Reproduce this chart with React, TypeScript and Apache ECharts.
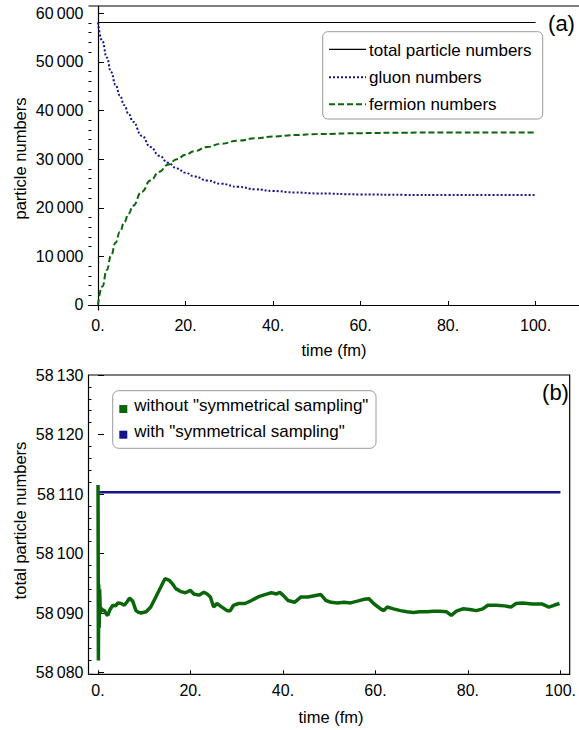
import React, { useEffect, useRef } from "react";
import * as echarts from "echarts";

// ---------- Data ----------
// Panel (a)
const TOP_T = [0, 1, 2, 3, 4, 5, 6, 7, 8, 10, 12, 14, 16, 18, 20, 22, 25, 28, 32, 36, 40, 45, 50, 60, 70, 80, 90, 100];
const FERMION_N = [0, 3800, 7200, 10200, 12800, 15000, 17000, 18800, 20400, 23300, 25600, 27400, 28850, 30000, 30900, 31650, 32500, 33150, 33800, 34300, 34650, 34950, 35150, 35350, 35450, 35500, 35500, 35500];
const GLUON_N = [58110, 54300, 50900, 47900, 45300, 43100, 41100, 39300, 37700, 34800, 32500, 30700, 29250, 28100, 27200, 26450, 25600, 24950, 24300, 23800, 23450, 23150, 22950, 22750, 22650, 22600, 22600, 22600];
const TOTAL_T = [0, 100];
const TOTAL_N = [58110, 58110];

// Panel (b)
const WITHOUT_T = [0, 0.08, 0.16, 0.25, 0.35, 0.5, 0.7, 1.0, 1.4, 1.8, 2.1, 2.6, 3.2, 3.8, 4.3, 5.0, 5.7, 6.3, 6.8, 7.5, 8.2, 8.8, 9.3, 10.4, 11.4, 12.5, 13.6, 14.5, 15.4, 16.1, 16.8, 17.9, 18.9, 20.0, 20.7, 21.8, 22.9, 23.6, 24.3, 25.0, 25.7, 26.8, 27.9, 28.6, 29.3, 30.4, 31.8, 33.2, 34.6, 36.1, 37.5, 38.6, 39.3, 40.0, 41.1, 42.5, 43.9, 45.4, 46.8, 48.2, 49.3, 50.4, 51.8, 53.2, 54.6, 56.1, 57.5, 58.6, 59.6, 61.1, 61.8, 62.5, 63.9, 65.4, 66.8, 68.2, 69.6, 71.1, 72.5, 73.9, 75.4, 76.4, 77.5, 78.9, 80.4, 81.8, 83.2, 84.3, 86.1, 87.9, 89.3, 90.4, 91.8, 93.9, 96.1, 97.5, 98.6, 99.8];
const WITHOUT_N = [58111.5, 58082.0, 58094.8, 58087.5, 58094.0, 58090.0, 58090.8, 58090.5, 58090.4, 58089.8, 58089.6, 58090.6, 58091.3, 58091.2, 58091.7, 58091.6, 58091.3, 58091.9, 58092.5, 58092.0, 58090.4, 58090.1, 58090.0, 58090.2, 58091.0, 58092.7, 58094.4, 58095.8, 58095.5, 58094.9, 58094.1, 58093.6, 58093.4, 58093.8, 58093.2, 58093.0, 58093.5, 58093.2, 58092.7, 58091.0, 58091.6, 58091.0, 58090.4, 58090.4, 58091.3, 58091.6, 58091.6, 58092.1, 58092.7, 58093.1, 58093.4, 58093.2, 58093.5, 58093.0, 58092.1, 58091.8, 58092.7, 58092.7, 58092.9, 58093.1, 58092.1, 58091.8, 58091.7, 58091.8, 58091.7, 58092.0, 58092.3, 58092.4, 58091.6, 58090.7, 58090.4, 58091.0, 58090.7, 58090.4, 58090.2, 58090.1, 58090.2, 58090.2, 58090.3, 58090.3, 58090.2, 58089.6, 58090.3, 58090.7, 58090.6, 58090.4, 58090.7, 58091.3, 58091.3, 58091.2, 58091.0, 58091.6, 58091.7, 58091.5, 58091.5, 58091.0, 58091.3, 58091.6];
const WITH_T = [0, 100];
const WITH_N = [58110.3, 58110.3];

// Ticks
const X_TICKS = [0, 20, 40, 60, 80, 100];
const TOP_Y_MAJOR = [0, 10000, 20000, 30000, 40000, 50000, 60000];
const TOP_Y_MINOR = [2000, 4000, 6000, 8000, 12000, 14000, 16000, 18000, 22000, 24000, 26000, 28000, 32000, 34000, 36000, 38000, 42000, 44000, 46000, 48000, 52000, 54000, 56000, 58000];
const BOT_Y_MAJOR = [58080, 58090, 58100, 58110, 58120, 58130];
const BOT_Y_MINOR = [58082, 58084, 58086, 58088, 58092, 58094, 58096, 58098, 58102, 58104, 58106, 58108, 58112, 58114, 58116, 58118, 58122, 58124, 58126, 58128];

const FONT = "'Liberation Sans', Arial, Helvetica, sans-serif";
const GREEN = "#0b660b";
const BLUE = "#14148c";

const zip = (a: number[], b: number[]) => a.map((v, i) => [v, b[i]]);
const fmtThousands = (v: number) => {
  const s = String(Math.round(v));
  if (s.length <= 3) return s;
  return s.slice(0, s.length - 3) + "\u2009" + s.slice(s.length - 3);
};

export default function App() {
  const ref = useRef<HTMLDivElement>(null);
  useEffect(() => {
    if (!ref.current) return;
    const chart = echarts.init(ref.current, undefined, { renderer: "svg" });

    const AXIS_LINE = { show: true, lineStyle: { color: "#000", width: 1.2 } };

    const xAxisBase = (gridIndex: number, min: number, max: number, margin: number, line: boolean) => ({
      type: "value" as const,
      gridIndex,
      position: "bottom",
      min,
      max,
      splitLine: { show: false },
      axisLine: line ? AXIS_LINE : { show: false },
      axisTick: {
        show: true,
        inside: true,
        length: 4,
        customValues: X_TICKS,
        lineStyle: { color: "#000", width: 1 },
      },
      axisLabel: {
        customValues: X_TICKS,
        formatter: (v: number) => `${v}.`,
        margin,
        fontSize: 16,
        color: "#000",
        fontFamily: FONT,
      },
    });

    const yMajor = (gridIndex: number, min: number, max: number, ticks: number[], line: boolean) => ({
      type: "value" as const,
      gridIndex,
      position: "left",
      min,
      max,
      splitLine: { show: false },
      axisLine: line ? AXIS_LINE : { show: false },
      axisTick: {
        show: true,
        inside: true,
        length: 6,
        customValues: ticks,
        lineStyle: { color: "#000", width: 1 },
      },
      axisLabel: {
        customValues: ticks,
        formatter: (v: number) => fmtThousands(v),
        margin: 5,
        fontSize: 16,
        color: "#000",
        fontFamily: FONT,
      },
    });

    const yMinor = (gridIndex: number, min: number, max: number, ticks: number[]) => ({
      type: "value" as const,
      gridIndex,
      position: "left",
      offset: 0,
      min,
      max,
      splitLine: { show: false },
      axisLine: { show: false },
      axisLabel: { show: false },
      axisTick: {
        show: true,
        inside: true,
        length: 3,
        customValues: ticks,
        lineStyle: { color: "#000", width: 1 },
      },
    });

    const txt = (text: string, x: number, y: number, size: number, extra: any = {}) => ({
      type: "text",
      x,
      y,
      ...extra,
      style: {
        text,
        fontSize: size,
        fontFamily: FONT,
        fill: "#000",
        align: extra.align || "left",
        verticalAlign: "middle",
      },
    });

    const option: any = {
      animation: false,
      backgroundColor: "#fff",
      grid: [
        { left: 88.5, top: 6, width: 491.5, height: 304, show: false },
        { left: 88.5, top: 375, width: 485.8, height: 299.3, show: true, borderColor: "#000", borderWidth: 1.2, backgroundColor: "transparent" },
      ],
      xAxis: [xAxisBase(0, -2.17, 109.92, 7, true), xAxisBase(1, -2.06, 102.0, 8, false)],
      yAxis: [
        yMajor(0, -1030, 61500, TOP_Y_MAJOR, true),
        yMinor(0, -1030, 61500, TOP_Y_MINOR),
        yMajor(1, 58079.7, 58130, BOT_Y_MAJOR, false),
        yMinor(1, 58079.7, 58130, BOT_Y_MINOR),
      ],
      series: [
        {
          name: "total particle numbers",
          type: "line",
          xAxisIndex: 0,
          yAxisIndex: 0,
          data: zip(TOTAL_T, TOTAL_N),
          showSymbol: false,
          lineStyle: { color: "#000", width: 1.2 },
        },
        {
          name: "gluon numbers",
          type: "line",
          xAxisIndex: 0,
          yAxisIndex: 0,
          data: zip(TOP_T, GLUON_N),
          showSymbol: false,
          smooth: true,
          smoothMonotone: "x",
          lineStyle: { color: BLUE, width: 2, type: [2, 2] },
        },
        {
          name: "fermion numbers",
          type: "line",
          xAxisIndex: 0,
          yAxisIndex: 0,
          data: zip(TOP_T, FERMION_N),
          showSymbol: false,
          smooth: true,
          smoothMonotone: "x",
          lineStyle: { color: GREEN, width: 2, type: [6, 3] },
        },
        {
          name: 'with "symmetrical sampling"',
          type: "line",
          xAxisIndex: 1,
          yAxisIndex: 2,
          data: zip(WITH_T, WITH_N),
          showSymbol: false,
          lineStyle: { color: BLUE, width: 2.5 },
        },
        {
          name: 'without "symmetrical sampling"',
          type: "line",
          xAxisIndex: 1,
          yAxisIndex: 2,
          data: zip(WITHOUT_T, WITHOUT_N),
          showSymbol: false,
          lineStyle: { color: GREEN, width: 3.5 },
        },
      ],
      graphic: [
        // top frame line of panel (a)
        { type: "line", shape: { x1: 88.5, y1: 6, x2: 579, y2: 6 }, style: { stroke: "#000", lineWidth: 1.2 } },
        // axis names
        txt("particle numbers", 20, 158.5, 16.5, { rotation: Math.PI / 2, align: "center" }),
        txt("time (fm)", 334, 350, 16.5, { align: "center" }),
        txt("total particle numbers", 20, 520.5, 16.5, { rotation: Math.PI / 2, align: "center" }),
        txt("time (fm)", 331, 717, 16.5, { align: "center" }),
        // panel tags
        txt("(a)", 561.5, 23, 22, { align: "center" }),
        txt("(b)", 555.5, 392, 22, { align: "center" }),
        // legend (a)
        {
          type: "rect",
          shape: { x: 322.7, y: 31.7, width: 220, height: 87.3, r: 5 },
          style: { fill: "#fff", stroke: "#9a9a9a", lineWidth: 1 },
          z: 10,
        },
        { type: "line", shape: { x1: 329, y1: 49.3, x2: 366, y2: 49.3 }, style: { stroke: "#000", lineWidth: 1.2 }, z: 11 },
        { type: "line", shape: { x1: 329, y1: 77.3, x2: 366, y2: 77.3 }, style: { stroke: BLUE, lineWidth: 2, lineDash: [2, 2] }, z: 11 },
        { type: "line", shape: { x1: 329, y1: 104.3, x2: 366, y2: 104.3 }, style: { stroke: GREEN, lineWidth: 2, lineDash: [6, 3] }, z: 11 },
        { ...txt("total particle numbers", 369, 50, 17), z: 11 },
        { ...txt("gluon numbers", 369, 77, 17), z: 11 },
        { ...txt("fermion numbers", 369, 104, 17), z: 11 },
        // legend (b)
        {
          type: "rect",
          shape: { x: 112.7, y: 390.7, width: 263.3, height: 57.6, r: 6 },
          style: { fill: "#fff", stroke: "#9a9a9a", lineWidth: 1 },
          z: 10,
        },
        { type: "rect", shape: { x: 119.3, y: 405, width: 8, height: 8 }, style: { fill: GREEN }, z: 11 },
        { type: "rect", shape: { x: 119.3, y: 430.7, width: 8, height: 8 }, style: { fill: BLUE }, z: 11 },
        { ...txt('without "symmetrical sampling"', 134.3, 405, 17), z: 11 },
        { ...txt('with "symmetrical sampling"', 134.3, 431, 17), z: 11 },
      ],
    };

    chart.setOption(option);
    return () => chart.dispose();
  }, []);

  return (
    <div
      ref={ref}
      style={{ position: "fixed", left: 0, top: 0, width: 579, height: 730, background: "#fff" }}
    />
  );
}
